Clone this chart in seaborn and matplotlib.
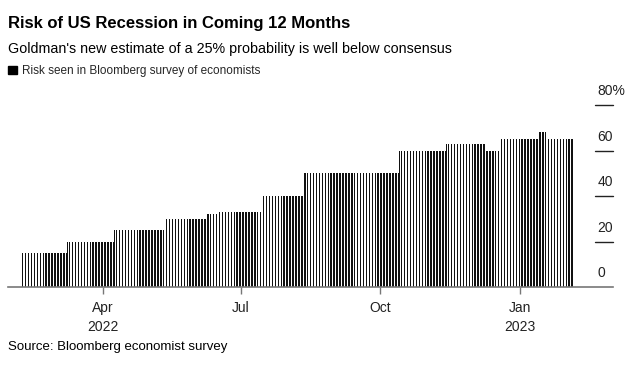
import numpy as np
import pandas as pd
import matplotlib
matplotlib.use("Agg")
import matplotlib.pyplot as plt
import matplotlib.dates as mdates
from matplotlib.patches import Patch
import seaborn as sns

# survey readings: date the new reading starts, and the risk (%)
step_starts = ["2022-02-07", "2022-03-09", "2022-04-09", "2022-05-13", "2022-06-09",
               "2022-06-17", "2022-07-15", "2022-08-12", "2022-10-14", "2022-11-14",
               "2022-12-10", "2022-12-19", "2023-01-14", "2023-01-19"]
step_values = [15, 20, 25, 30, 32, 33, 40, 50, 60, 63, 60, 65, 68, 65]
last_day = "2023-02-05"

tick_dates = ["2022-04-01", "2022-07-01", "2022-10-01", "2023-01-01"]
tick_labels = ["Apr\n2022", "Jul", "Oct", "Jan\n2023"]
y_ticks = [0, 20, 40, 60, 80]
y_labels = ["0", "20", "40", "60", "80%"]

# one bar per day, holding the latest survey reading
steps = pd.Series(step_values, index=pd.to_datetime(step_starts))
days = pd.date_range(step_starts[0], last_day, freq="D")
daily = steps.reindex(days).ffill()
df = pd.DataFrame({"day": mdates.date2num(days), "risk": daily.values})

sns.set_theme(style="white")
plt.rcParams["font.family"] = ["Liberation Sans", "DejaVu Sans"]

fig = plt.figure(figsize=(6.43, 3.72), dpi=100)
ax = fig.add_axes([8 / 643, 1 - 287 / 372, 605 / 643, 182 / 372])

sns.barplot(data=df, x="day", y="risk", native_scale=True, width=0.5,
            color="#111111", saturation=1, linewidth=0, ax=ax)

x0 = mdates.date2num(pd.Timestamp("2022-04-01"))
x1 = mdates.date2num(pd.Timestamp("2023-01-01"))
ax.set_xlim(x0 - 62.5, x1 + 61.6)
ax.set_ylim(0, 80)

ax.set_xticks(mdates.date2num(pd.to_datetime(tick_dates)))
ax.set_xticklabels(tick_labels, fontsize=10, color="#222222", linespacing=1.5)
ax.tick_params(axis="x", length=5, width=1, color="#777777", pad=5, bottom=True)
ax.set_xlabel("")
ax.set_ylabel("")

ax.set_yticks([])
for s in ["top", "left", "right"]:
    ax.spines[s].set_visible(False)
ax.spines["bottom"].set_color("#777777")
ax.spines["bottom"].set_linewidth(1.2)

# right-hand value labels with short guide lines
trans = ax.get_yaxis_transform()
for v, lab in zip(y_ticks, y_labels):
    if v > 0:
        ax.plot([0.97, 1.0], [v, v], transform=trans, color="#222222", lw=1, clip_on=False)
    ax.text(0.974, v + 3, lab, transform=trans, ha="left", va="bottom",
            fontsize=10, color="#222222")

fig.text(8 / 643, 1 - 28 / 372, "Risk of US Recession in Coming 12 Months",
         fontsize=12, fontweight="bold", va="baseline", ha="left", color="black")
fig.text(8 / 643, 1 - 53 / 372, "Goldman's new estimate of a 25% probability is well below consensus",
         fontsize=10.3, va="baseline", ha="left", color="black")
fig.legend(handles=[Patch(color="black", label="Risk seen in Bloomberg survey of economists")],
           loc="center left", bbox_to_anchor=(8 / 643, 1 - 71 / 372), frameon=False,
           fontsize=8.5, handlelength=0.75, handleheight=0.75, handletextpad=0.4,
           borderaxespad=0, borderpad=0)
fig.text(8 / 643, 1 - 347 / 372, "Source: Bloomberg economist survey",
         fontsize=9.5, va="center", ha="left", color="black")

fig.savefig("out.png", dpi=100)
